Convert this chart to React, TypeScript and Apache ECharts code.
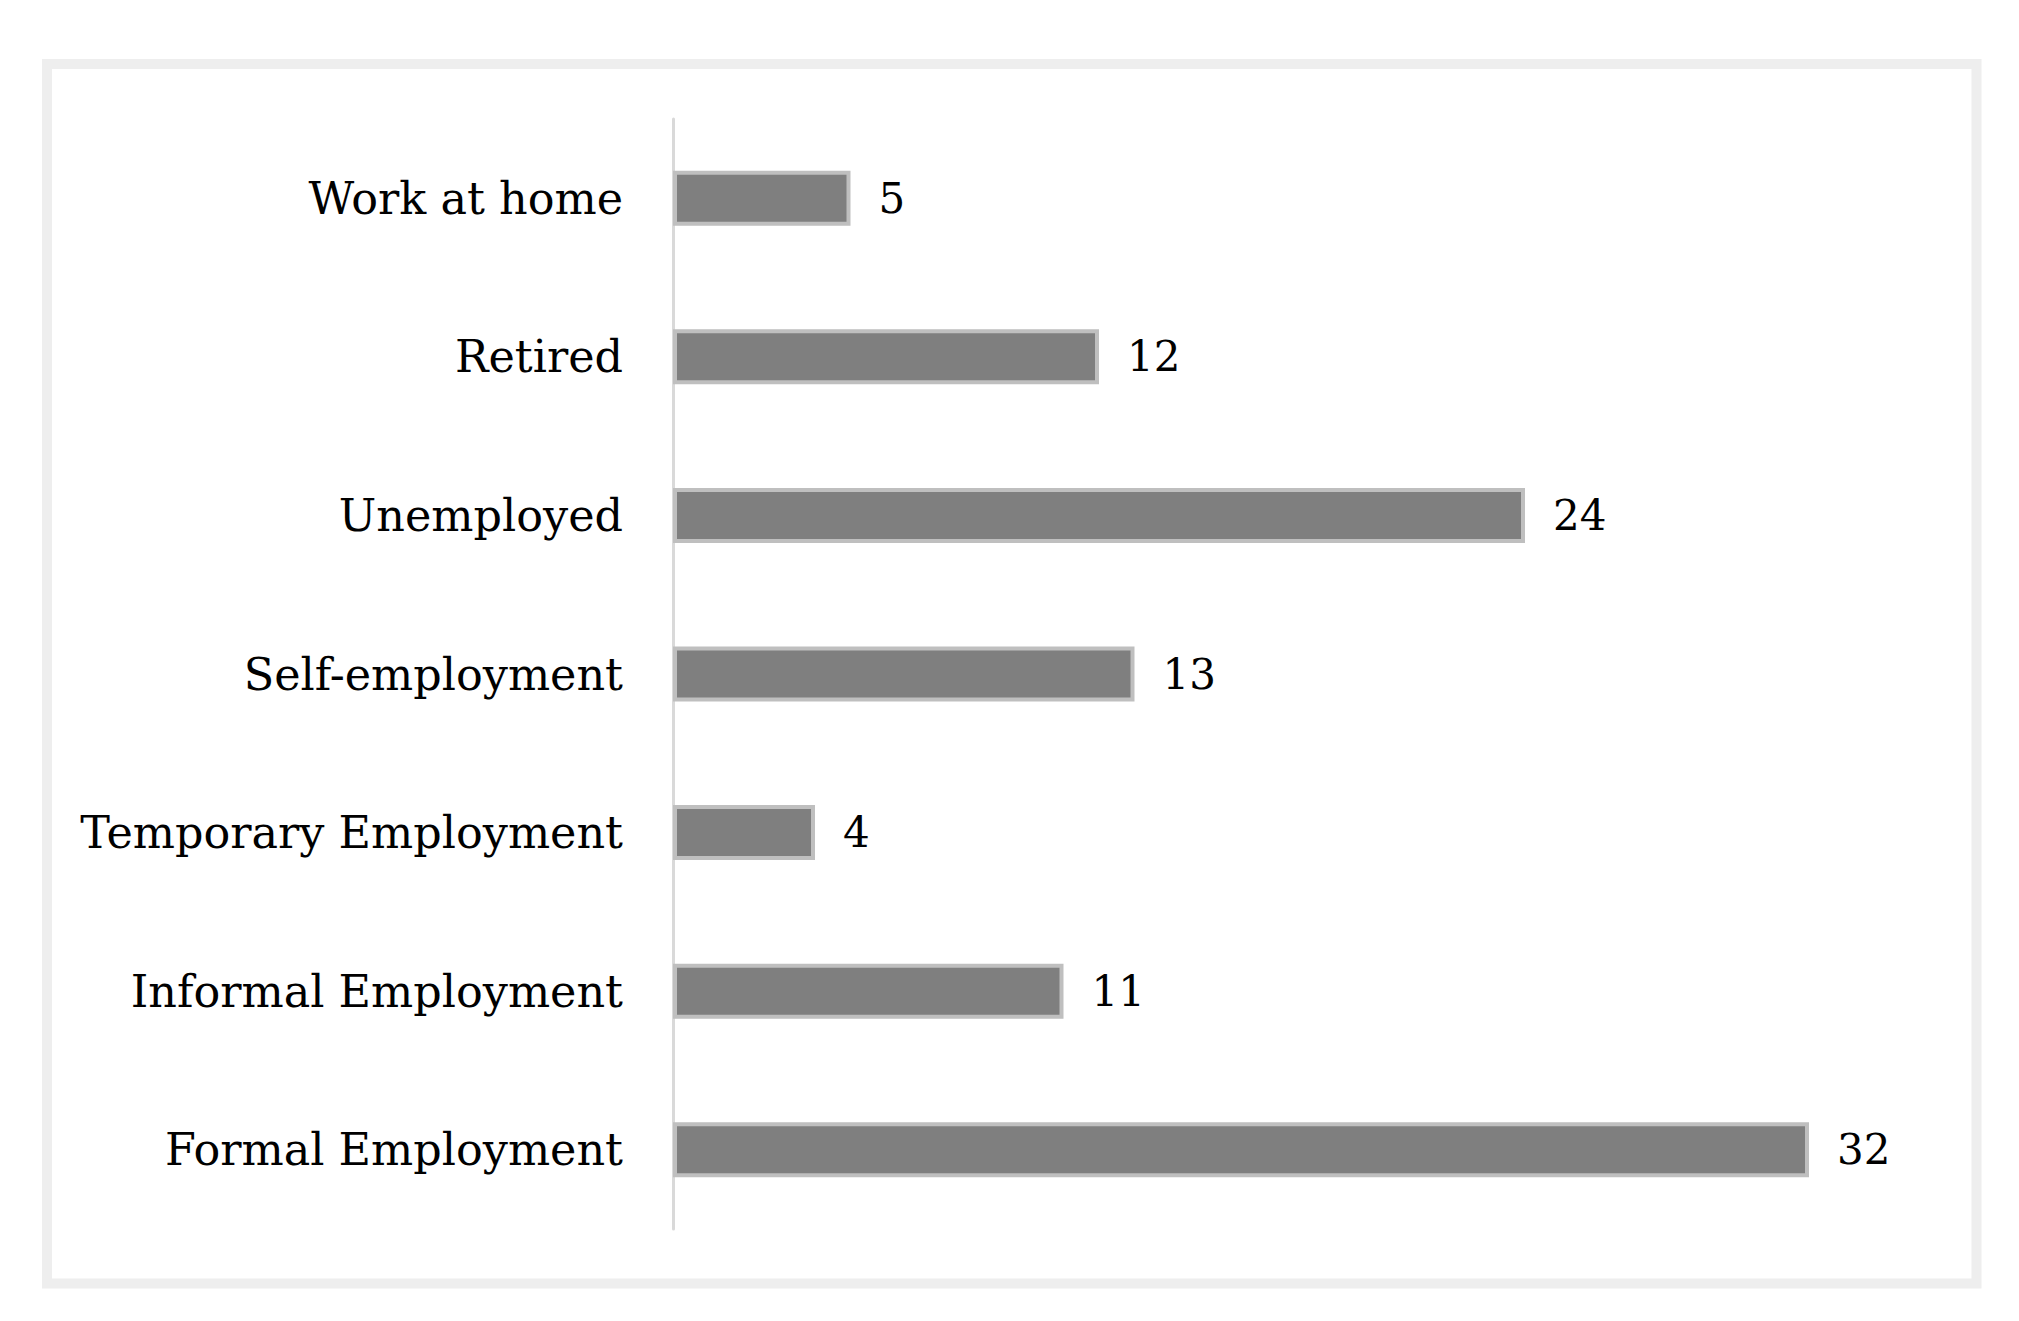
import React, { useEffect, useRef } from "react";
import * as echarts from "echarts";

const categories = [
  "Formal Employment",
  "Informal Employment",
  "Temporary Employment",
  "Self-employment",
  "Unemployed",
  "Retired",
  "Work at home",
];
const values = [32, 11, 4, 13, 24, 12, 5];

export default function App() {
  const ref = useRef<HTMLDivElement>(null);
  useEffect(() => {
    document.body.style.margin = "0";
    const chart = echarts.init(ref.current!, null, { renderer: "svg" });
    const font = "DejaVu Serif";
    chart.setOption({
      animation: false,
      backgroundColor: "#ffffff",
      graphic: [
        {
          type: "rect",
          shape: { x: 47, y: 64, width: 1929.5, height: 1219.5 },
          style: { fill: "none", stroke: "#eeeeee", lineWidth: 10 },
          z: -1,
        },
      ],
      grid: { left: 673, top: 119, height: 1110, right: 68, containLabel: false },
      xAxis: {
        type: "value",
        min: 0,
        max: 36,
        show: false,
        splitLine: { show: false },
      },
      yAxis: {
        type: "category",
        data: categories,
        axisLine: { show: true, lineStyle: { color: "#d9d9d9", width: 3 } },
        axisTick: { show: false },
        axisLabel: {
          fontFamily: font,
          fontSize: 44.5,
          color: "#000000",
          margin: 50,
        },
      },
      series: [
        {
          type: "bar",
          data: values,
          barWidth: 55,
          itemStyle: { color: "#7f7f7f", borderColor: "#bfbfbf", borderWidth: 4 },
          label: {
            show: true,
            position: "right",
            distance: 28,
            fontFamily: font,
            fontSize: 42,
            color: "#000000",
          },
        },
      ],
    });
    return () => chart.dispose();
  }, []);
  return <div ref={ref} style={{ width: 2019, height: 1321 }} />;
}
